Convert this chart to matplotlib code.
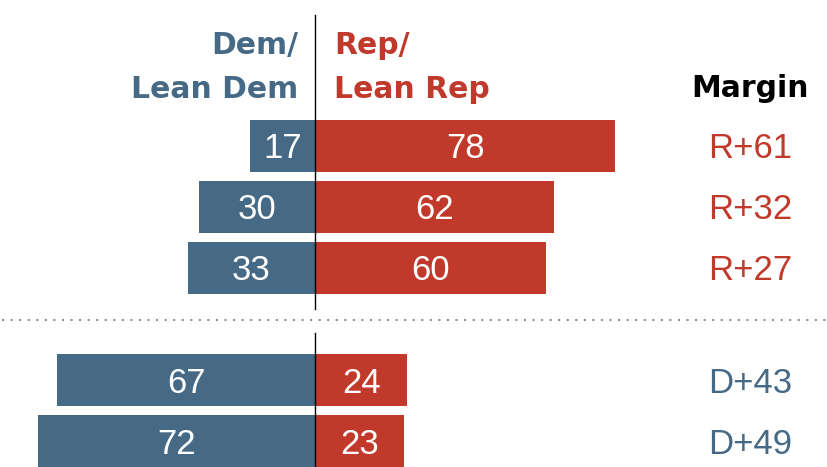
import matplotlib.pyplot as plt

# values
dem = [17, 30, 33, 67, 72]
rep = [78, 62, 60, 24, 23]
rows = [0, 1, 2, 3.84, 4.84]   # vertical slot of each bar (gap before the 2nd group)

blue = "#466a86"
red = "#c0392a"

margins = [r - d for d, r in zip(dem, rep)]
margin_labels = [("R+%d" % m) if m > 0 else ("D+%d" % -m) for m in margins]
margin_colors = [red if m > 0 else blue for m in margins]

fig = plt.figure(figsize=(8.28, 4.67), dpi=100)
ax = fig.add_axes([0, 0, 1, 1])
ax.set_xlim(-81.8, 133.2)
ax.set_ylim(5.26, -2.39)
ax.axis("off")

ax.barh(rows, [-d for d in dem], height=0.852, color=blue)
ax.barh(rows, rep, height=0.852, color=red)

vfont = dict(family=["Liberation Sans", "DejaVu Sans"], fontsize=25)
for y, d, r, ml, mc in zip(rows, dem, rep, margin_labels, margin_colors):
    ax.text(-d / 2, y + 0.2, str(d), color="white", ha="center", va="baseline", **vfont)
    ax.text(r / 2, y + 0.2, str(r), color="white", ha="center", va="baseline", **vfont)
    ax.text(113, y + 0.2, ml, color=mc, ha="center", va="baseline", **vfont)

# center line, broken at the divider
ax.plot([0, 0], [-2.15, 2.67], color="black", lw=1.0)
ax.plot([0, 0], [3.07, 5.3], color="black", lw=1.0)
ax.axhline(2.852, xmin=0.003, xmax=0.997, color="#8c8c8c", lw=1.4,
           linestyle=(0, (1.1, 3.3)))

hfont = dict(family=["DejaVu Sans"], fontsize=21.5, fontweight="bold")
ax.text(-4.4, -1.51, "Dem/", color=blue, ha="right", va="baseline", **hfont)
ax.text(-4.4, -0.79, "Lean Dem", color=blue, ha="right", va="baseline", **hfont)
ax.text(4.9, -1.51, "Rep/", color=red, ha="left", va="baseline", **hfont)
ax.text(4.9, -0.79, "Lean Rep", color=red, ha="left", va="baseline", **hfont)
ax.text(113, -0.80, "Margin", color="black", ha="center", va="baseline", **hfont)

plt.savefig("out.png", dpi=100)
